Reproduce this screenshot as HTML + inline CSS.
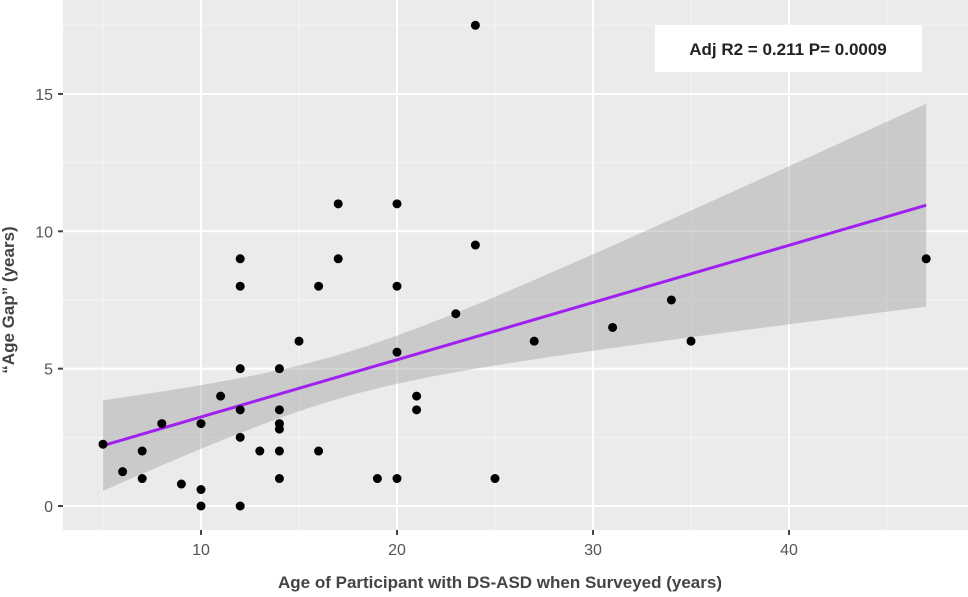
<!DOCTYPE html>
<html><head><meta charset="utf-8"><style>
body{margin:0;background:#fff;}
svg{display:block;font-family:"Liberation Sans",Arial,sans-serif;}
</style></head><body>
<svg id="chart" width="968" height="597">
<rect x="63" y="0" width="905" height="530" fill="#ebebeb"/>
<g id="grid"></g>
<g id="band"></g>
<g id="line"></g>
<g id="points"></g>
<g id="axes"></g>
<g>
<rect x="655" y="25" width="267" height="47" fill="#fff"/>
<text x="788" y="55" text-anchor="middle" font-size="17" font-weight="bold" fill="#222">Adj R2 = 0.211 P= 0.0009</text>
</g>
<text x="500" y="588" text-anchor="middle" font-size="17" font-weight="bold" fill="#444">Age of Participant with DS-ASD when Surveyed (years)</text>
<text transform="translate(14,300) rotate(-90)" text-anchor="middle" font-size="17" font-weight="bold" fill="#444">“Age Gap” (years)</text>
</svg>
<script>
const xs=[5,6,7,7,8,9,10,10,10,11,12,12,12,12,12,12,13,14,14,14,14,14,14,15,16,16,17,17,19,20,20,20,20,21,21,23,24,24,25,27,31,34,35,47];
const ys=[2.25,1.25,2,1,3,0.8,3,0.6,0,4,9,8,5,3.5,2.5,0,2,5,3.5,3,2.8,2,1,6,8,2,11,9,1,11,8,5.6,1,4,3.5,7,17.5,9.5,1,6,6.5,7.5,6,9];
const xTicks=[10,20,30,40];
const yTicks=[0,5,10,15];
const fitStart=[5,2.2], fitEnd=[47,10.95];
const bandCenter=17, bandSeA=0.64, bandSeB=0.01444;
const X=v=>201+(v-10)*19.6, Y=v=>506-v*27.47;
const NS="http://www.w3.org/2000/svg";
function mk(p,t,a){const e=document.createElementNS(NS,t);for(const k in a)e.setAttribute(k,a[k]);document.getElementById(p).appendChild(e);return e;}
for(let v=5;v<=45;v+=10){const e=mk('grid','line',{x1:X(v),x2:X(v),y1:0,y2:530,stroke:'#f5f5f5','stroke-width':1});

}
for(let v=2.5;v<=17.5;v+=5){const e=mk('grid','line',{x1:63,x2:968,y1:Y(v),y2:Y(v),stroke:'#f5f5f5','stroke-width':1});

}
xTicks.forEach(v=>{const g=mk('grid','line',{x1:X(v),x2:X(v),y1:0,y2:530,stroke:'#fff','stroke-width':2});


mk('axes','line',{x1:X(v),x2:X(v),y1:530,y2:535,stroke:'#444','stroke-width':2});
const t=mk('axes','text',{x:X(v),y:555,'text-anchor':'middle','font-size':16,fill:'#555'});t.textContent=v;

});
yTicks.forEach(v=>{const g=mk('grid','line',{x1:63,x2:968,y1:Y(v),y2:Y(v),stroke:'#fff','stroke-width':2});


mk('axes','line',{x1:58,x2:63,y1:Y(v),y2:Y(v),stroke:'#444','stroke-width':2});
const t=mk('axes','text',{x:53,y:Y(v)+6,'text-anchor':'end','font-size':16,fill:'#555'});t.textContent=v;

});
const fit=x=>fitStart[1]+(x-fitStart[0])*(fitEnd[1]-fitStart[1])/(fitEnd[0]-fitStart[0]);
const se=x=>Math.sqrt(bandSeA+bandSeB*(x-bandCenter)**2);
let up=[],lo=[];
for(let x=fitStart[0];x<=fitEnd[0]+1e-9;x+=0.5){up.push(X(x)+','+Y(fit(x)+se(x)));lo.unshift(X(x)+','+Y(fit(x)-se(x)));}
const b=mk('band','polygon',{points:up.concat(lo).join(' '),fill:'#999','fill-opacity':0.4});


const l=mk('line','line',{x1:X(fitStart[0]),y1:Y(fitStart[1]),x2:X(fitEnd[0]),y2:Y(fitEnd[1]),stroke:'#a020f0','stroke-width':3});


xs.forEach((x,i)=>{const c=mk('points','circle',{cx:X(x),cy:Y(ys[i]),r:4.5,fill:'#000'});

});
</script>
</body></html>
